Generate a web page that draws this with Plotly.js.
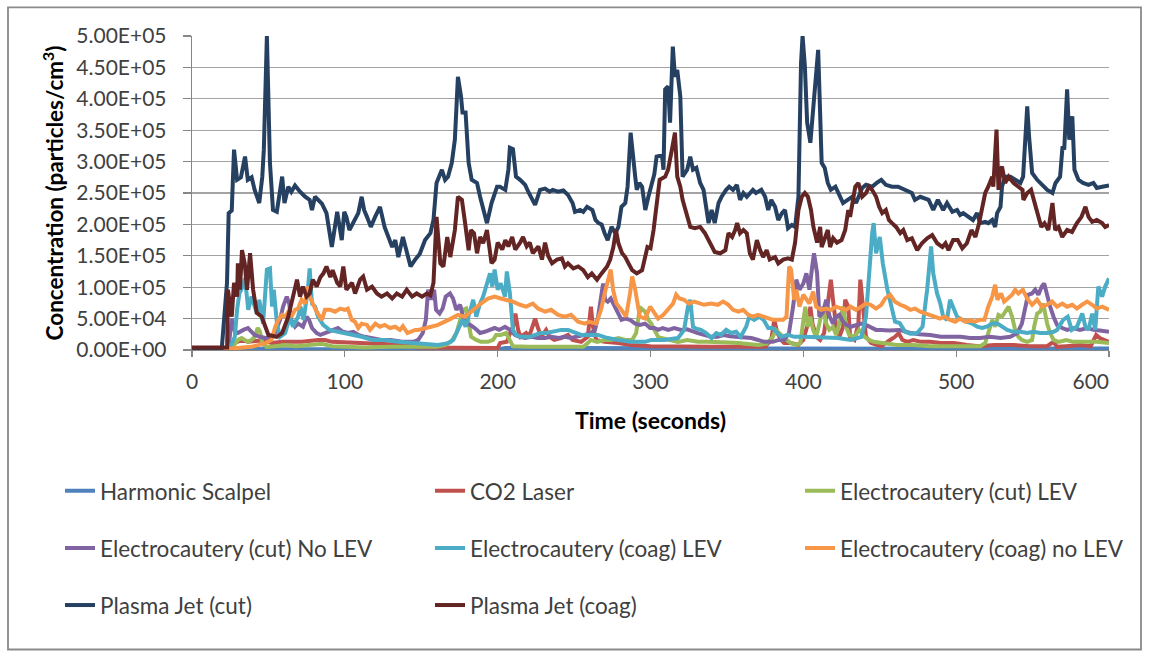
<!DOCTYPE html>
<html>
<head>
<meta charset="utf-8">
<script src="https://cdn.plot.ly/plotly-3.0.1.min.js"></script>
<style>html,body{margin:0;padding:0;background:#fff;}#chart{width:1149px;height:652px;}</style>
</head>
<body>
<div id="chart"></div>
<script>
// ---- Data ----
var seriesNames = ["Harmonic Scalpel","CO2 Laser","Electrocautery (cut) LEV","Electrocautery (cut) No LEV","Electrocautery (coag) LEV","Electrocautery (coag) no LEV","Plasma Jet (cut)","Plasma Jet (coag)"];
var yTickVals = [0,50000,100000,150000,200000,250000,300000,350000,400000,450000,500000];
var yTickText = ["0.00E+00","5.00E+04","1.00E+05","1.50E+05","2.00E+05","2.50E+05","3.00E+05","3.50E+05","4.00E+05","4.50E+05","5.00E+05"];
var xTickVals = [0,100,200,300,400,500,600];
var xTickText = ["0","100","200","300","400","500","600\u2007\u2007\u2007"];

var harmonicT = [0,20,30,45,50,55,80,120,160,200,205,250,300,350,400,450,500,550,600];
var harmonicV = [0,0,500,2000,3000,1500,1000,1000,800,1000,3000,3000,2500,2500,3000,2500,2000,2500,2500];

var co2T = [0,22,25,28,32.7,36.6,41,48,52,59,65,72,82.5,87,91.7,100,111,125,140,148,170,200,201.6,206,208.6,210,211.6,213.4,215,218.6,220.5,223,224.5,226.4,228.5,231.7,234,237,241.5,246,249,254.7,259,261,262.4,264.5,270,279,287,300,320,340,360,375,379,381,383,385.5,387.5,392,396.6,400,403,404.6,406,408.4,411,413.6,416,418,419.4,421.5,423.6,426,427.4,429.4,430.6,433.4,436,437.3,439,441,444.4,448,451,456.8,460,462.4,464.8,468,472,477,483,490,498.5,507,515,525,537.5,548,559.5,563.7,566,572,581,588,590,591.6,594,600];
var co2V = [0,0,8000,11000,16000,13000,14000,16000,11000,13000,13000,13000,16000,16000,13000,12000,11000,10000,8000,4000,3000,3000,11000,13000,30000,37000,58000,32000,21000,27000,21000,37000,50000,35000,21000,32000,21000,16000,19000,24000,16000,13000,21000,69000,37000,16000,13000,11000,8000,6000,5000,5000,5000,5000,16000,48000,27000,16000,11000,11000,8000,16000,42000,69000,42000,21000,16000,27000,74000,112000,80000,37000,21000,37000,80000,69000,21000,16000,42000,112000,69000,21000,11000,8000,6000,16000,21000,27000,16000,13000,16000,13000,13000,11000,11000,8000,6000,8000,8000,6000,6000,13000,5000,6000,8000,6000,16000,24000,19000,13000];

var cutLevT = [0,22,26,28,30,32.5,34.5,36.6,39,41,43,44.5,46,49,54.3,61,68,75,85,91.7,100,113,130,148,160,165.6,169.5,173,175.4,177.4,179.4,181.3,182.6,186,189,193.7,197,199,202,205.5,208,210,220,240,256,259,261,265,270,274,279,283.4,288,290.6,292.5,294,296.5,298.6,300.5,302.5,305,307,311.6,318,324,331,337,344,351,357.5,364,370.4,376,380,382,384,386.8,389,392,395.4,398,400,401.3,403,404.6,406.4,408.4,410.5,412.8,415,417,419.4,421.5,423.6,426,428,430,433.4,436.5,440,443,446,451,461.4,472,483,494,504.6,515.7,519,521,523.6,525.5,527.7,530,532,534.3,536.6,538.6,540.7,543,546.4,549.7,551,553,555,557,559.5,561.5,563.7,567,572,576.7,585,592,600];
var cutLevV = [0,0,3000,11000,16000,19000,16000,13000,16000,21000,35000,29000,11000,5000,6000,8000,6000,8000,10000,6000,5000,4000,5000,5000,5000,8000,13000,27000,48000,64000,66000,42000,21000,16000,13000,13000,16000,24000,24000,27000,16000,6000,5000,5000,5000,11000,16000,13000,16000,16000,19000,16000,16000,27000,58000,66000,61000,48000,42000,32000,21000,19000,16000,13000,16000,13000,13000,13000,12000,11000,10000,8000,10000,21000,32000,27000,21000,16000,11000,8000,11000,53000,69000,37000,53000,32000,21000,42000,69000,42000,32000,37000,24000,42000,69000,37000,24000,21000,32000,21000,16000,13000,11000,8000,8000,6000,6000,6000,6000,11000,27000,48000,37000,56000,53000,61000,69000,53000,32000,21000,16000,13000,16000,37000,58000,61000,74000,42000,27000,16000,13000,16000,13000,13000,13000,11000];

var cutNoLevT = [0,22,24,26,28,30,33.6,36.6,39,41,44.5,48,51,54.3,57.6,59.6,62,63.6,65,67.4,69.4,72.6,75,76.6,78.5,81.6,84,89,92.3,95.5,98.8,102,105.6,108.8,113,117.8,124,130,137.4,145,148,151,153,154.5,156.4,158.4,159.7,162,164,166,168.8,170.8,173,175.4,177.4,179.4,182,185,188.5,191.5,195,198,201,204.8,208,211.4,214.5,218,222,226.4,231,235,240,244,248,252.6,257,261,263.7,265.7,267.6,269,270.3,272,274,276.6,278.8,281,283.4,286.6,290,293,296.5,299.7,302.5,305,308,311.6,315.5,320,324,328,331,335,339.6,344,348,352,357.5,362,366,370.4,374.4,380,384,387.5,390.6,393.3,395.4,397.5,400,402,404,405.8,407,409,410.5,412.8,415,417,419.4,421.5,423.6,426,428,431,434.5,438,441,444.4,447.6,451,456,463,470,476,483,490,496,503,509,515.7,522,529,535.4,540,543,545,547,549.6,551.7,553.8,556,557.6,559.5,561.5,563.7,566,569.4,572.6,576.7,581,585.7,590,594,600];
var cutNoLevV = [0,0,5000,50000,30000,27000,32000,35000,29000,24000,21000,19000,21000,27000,48000,69000,85000,74000,48000,37000,42000,37000,53000,48000,35000,27000,24000,29000,32000,35000,29000,27000,29000,24000,21000,19000,16000,16000,13000,13000,16000,27000,48000,96000,80000,96000,64000,58000,66000,85000,90000,82000,64000,72000,53000,42000,40000,35000,27000,29000,32000,35000,32000,37000,32000,24000,21000,19000,21000,19000,19000,21000,19000,21000,19000,21000,24000,27000,32000,53000,85000,106000,80000,77000,82000,69000,58000,48000,50000,48000,42000,40000,42000,35000,35000,32000,35000,32000,35000,32000,33000,29000,27000,24000,21000,21000,24000,22000,21000,20000,19000,16000,13000,13000,16000,16000,27000,69000,112000,96000,106000,122000,96000,133000,154000,122000,53000,60000,80000,55000,42000,53000,56000,45000,40000,37000,40000,42000,40000,35000,32000,32000,31000,32000,27000,25000,24000,21000,21000,21000,19000,19000,21000,19000,21000,27000,42000,69000,88000,90000,96000,88000,101000,106000,85000,69000,53000,40000,35000,32000,35000,32000,35000,32000,31000,29000];

var coagLevT = [0,24,26,28,29.5,31,33,34.7,36.8,39,42.5,44,46.5,49,51,52.4,53.5,55.6,57.6,61,64,66,69.4,71,73,75.8,77,78.5,80.5,82.5,85.8,90,95.5,100,104.5,111,118,126,135,148,155,161,167.5,171,174,177,179,182,184,186,188.5,190.5,192.5,195,196.5,198,200,202,204.8,206,208,210,212,215,221,224.5,228,232,237.5,241.5,246,250.5,254.7,265.7,272,279,287,296.5,300.5,309,318,322,324.5,326,327.8,330,333,336.4,340,343,346,349.5,352.7,356,359,362.6,364.6,367.8,371,374,377,380,383.5,385.5,390,394,400.5,407,413.6,422.5,431,438,441,443,445,446,447.6,450,452,455,457,460,463,466.6,470,474.5,478,481,483.6,485,487.5,489.5,491.5,494,496,498.5,500.6,504,507,510.5,513.7,517,520,523.6,527,530,533.4,537.5,542,546.5,550.5,555,559.5,563.7,566,570,573,575.6,579,582.5,584.6,586.6,589,591,593,595.5,597.5,600];
var coagLevV = [0,0,10000,21000,64000,90000,100000,114000,64000,85000,58000,80000,42000,128000,130000,69000,96000,42000,21000,27000,53000,37000,53000,69000,48000,96000,130000,74000,69000,53000,40000,32000,29000,27000,24000,21000,16000,16000,13000,11000,10000,8000,11000,16000,32000,48000,37000,64000,80000,53000,74000,85000,101000,122000,101000,128000,96000,106000,85000,125000,90000,32000,24000,21000,21000,24000,27000,27000,29000,32000,32000,27000,24000,24000,19000,16000,13000,13000,16000,16000,19000,32000,69000,80000,37000,34000,32000,27000,19000,27000,24000,32000,27000,29000,21000,37000,53000,48000,53000,48000,35000,35000,27000,21000,24000,21000,21000,20000,19000,19000,16000,21000,53000,122000,185000,202000,154000,180000,138000,96000,75000,45000,43000,29000,26000,27000,37000,96000,165000,122000,90000,75000,53000,48000,80000,64000,53000,48000,45000,42000,37000,35000,37000,42000,42000,37000,32000,29000,29000,27000,29000,27000,27000,29000,32000,48000,53000,32000,37000,58000,37000,32000,58000,32000,101000,85000,101000,114000];

var coagNoLevT = [0,22,24,39,48,52,54.5,56.5,59,61,63,65,67.4,69.4,71.7,74,75.6,77,79,81.6,85,87,90.5,93.6,97,100,102,104.5,106.7,108.8,111,114.5,116.5,120,123,126,129.6,133,136,138,141,146,148,152,156.5,161,165.6,169.5,174,178.6,182.6,186,189,193.7,198,202,205.5,210,214.6,218.6,223,226.4,231,235,239.5,244,248,252.6,257,260,264.5,267.6,270,272,274,275.5,277.7,281,284,286.6,288,290,293,296.5,299.7,302,305,308.4,311.6,314.8,316.8,319,322,325,328.6,331.7,335,339.6,344,347.5,351,354,357.5,360.7,364,367,370.4,374,377,380,383.5,386.8,389,390.7,392,394,395.4,397.5,400,402,404,406.4,408.4,411.6,415,418,421.5,425,428,431,434.5,438,441,444,447.6,451,453.5,456.8,460,463.4,466.6,470,473,476.5,479.7,483,486,489.5,492.5,496,499.4,502.6,506,509,512,515.7,518.5,521,523.6,525.5,527,529.4,531.4,533.4,536.6,538.6,540.7,543.6,546.4,549.7,553,556,559.5,562.8,566,569.4,572.6,576,579,582.4,585.7,589,592,595.5,600];
var coagNoLevV = [0,0,2000,5000,11000,16000,37000,48000,56000,53000,61000,53000,64000,66000,80000,74000,101000,85000,74000,61000,48000,64000,64000,61000,66000,64000,66000,48000,45000,35000,42000,40000,32000,42000,37000,40000,35000,37000,32000,38000,27000,32000,32000,35000,37000,40000,45000,50000,56000,53000,61000,69000,74000,82000,85000,82000,80000,77000,72000,69000,74000,66000,61000,64000,56000,53000,56000,45000,42000,45000,42000,64000,90000,112000,128000,96000,74000,64000,53000,90000,117000,96000,53000,50000,69000,61000,50000,56000,66000,74000,88000,82000,80000,74000,77000,74000,72000,74000,72000,77000,72000,64000,61000,64000,56000,53000,56000,53000,50000,48000,48000,48000,53000,133000,128000,80000,96000,69000,88000,80000,74000,93000,69000,64000,66000,64000,69000,66000,64000,69000,64000,69000,74000,72000,66000,72000,82000,88000,77000,72000,69000,64000,66000,61000,58000,56000,53000,50000,53000,48000,45000,50000,45000,48000,45000,48000,48000,69000,85000,104000,80000,90000,77000,82000,88000,96000,90000,96000,82000,72000,80000,69000,72000,77000,69000,74000,69000,72000,66000,72000,77000,72000,66000,69000,64000];

var pjCutT = [0,19.5,22.9,24,26,27.5,29.5,32,34.7,36.5,39,41,44,46,47,49,51,53,55.5,59,60.5,63,65,67.4,70.7,74,77,78.5,80.5,82.5,85,88,91.5,95,98,99.6,101,103,106.7,108.8,111,112.6,114.5,117,119.8,123,126,128,131,133,135,138,140.5,143,146,149,152.5,156,158,160,163.5,165.6,167.5,170,172,174,176,177,179,181,183,186.5,188.5,190.5,193,196,199.6,201.5,205,207,208,210,212,214.7,218,220,222.5,224.5,227.7,231,234,236,239.5,243,246,249,250.6,254,256,258.5,262,264,266,268,270,272,274.5,277,279,281,283.5,285,287,288.5,290,291,292.7,294.5,296.6,298.6,301,302.5,304,307.5,308.5,309.6,311.5,312.8,314.6,316,317.5,319.5,321,324,326,327.8,330,332.5,334.7,337,338,340,342,344.5,346.5,349.5,351.5,354,356.5,358.6,360.8,363,365,367,369,372.5,375,377,379,381.5,383.6,386,388,390,392.5,394.6,396.8,398.5,399.5,401,402.5,404.6,407,409.7,412,414,416,418,421,423,426,429,432,434.5,438.5,441,445,448,451,454,458,462,466.6,471,473,476.5,482,485,488,491.5,494,497.5,500.6,502.6,504.6,508,511,513.7,515.7,519,521,523.6,525.5,526.8,529,530,532,535.5,538.6,542,543.8,545,546.5,547.7,549.7,553,556,559.6,563,565,568,569.6,570.7,572.6,574,576,577.4,580,583,586.6,589.8,592,595.6,600];
var pjCutV = [3000,3000,107000,218000,222000,319000,271000,275000,308000,271000,275000,255000,234000,276000,319000,500000,298000,223000,220000,276000,234000,260000,252000,262000,252000,244000,239000,223000,244000,239000,233000,218000,164000,220000,175000,220000,212000,191000,207000,218000,244000,223000,212000,196000,212000,228000,196000,183000,164000,175000,148000,180000,154000,133000,144000,153000,175000,186000,207000,266000,287000,271000,276000,298000,335000,435000,404000,378000,378000,298000,271000,266000,244000,223000,202000,234000,260000,260000,255000,287000,322000,320000,276000,271000,263000,252000,239000,231000,255000,257000,252000,255000,252000,254000,247000,234000,220000,223000,220000,228000,223000,207000,202000,200000,186000,175000,196000,186000,196000,228000,234000,260000,346000,303000,276000,255000,266000,260000,223000,244000,270000,280000,308000,310000,287000,415000,420000,362000,483000,435000,446000,404000,276000,287000,308000,287000,290000,266000,255000,223000,202000,223000,202000,234000,244000,255000,260000,255000,263000,239000,250000,244000,250000,255000,250000,255000,244000,223000,239000,228000,207000,218000,223000,194000,199000,196000,244000,457000,500000,452000,362000,330000,400000,478000,298000,290000,266000,255000,260000,250000,234000,239000,244000,234000,258000,263000,260000,266000,271000,263000,260000,260000,255000,250000,239000,244000,239000,223000,239000,223000,234000,220000,223000,215000,218000,212000,207000,218000,202000,204000,202000,207000,196000,218000,228000,260000,276000,276000,271000,266000,276000,340000,388000,340000,282000,271000,263000,255000,250000,266000,276000,324000,319000,415000,335000,372000,287000,271000,266000,263000,266000,258000,260000,262000];

var pjCoagT = [0,23,23.5,26,27.5,29.5,30,31.4,32.7,34.5,36,38,40,42.4,45.6,50,55.4,59,63,65,68.7,70.7,72.6,75,77,79,81.6,84,86,88,90.5,92,95,97,99,101,104.7,106.7,110,112,114.5,117.8,121,124,127.6,131,134,137.5,140.5,144,147,150.5,153.6,156,158,160,162.5,164.5,167,169,172,174,176.6,178.7,181,182.5,184.5,186.5,188.5,190.5,193,196,198,200,203,205,207,209.5,211.5,214.7,216.6,219,221,223,226.6,229,231,233,235.6,238.8,242,244,246,249.5,252.7,256,259,261.6,265,268,271.6,273.6,275.7,277.4,279,281.4,283.5,285.6,288,291,294.5,298,300,302,304,306,309.6,311.5,314,316,317.5,319.5,321,324,326,329,332.5,335.6,339,342,345.6,349,351,353.4,355.4,356.7,358.6,360.8,363,365,367,369.6,371.7,373.7,376,378,381.5,383.6,386.8,390,392.5,394.6,396.8,399,401,403,405,406.6,409,411,412,414.3,416,417.5,419.5,422,425,427.4,429.4,430.6,432,434,436,438.5,441,443,445,447.6,449.6,451.6,454,456,458,460.7,463.4,465.4,468,471,474.5,477.6,481,484.3,487.6,491,493,495,498,501,504,507,510,512.6,515,517.6,519,521,523.6,524.3,526.4,527.7,529,530,532,534.3,537.6,540.7,543.4,544,546.5,549,551,553.6,555.7,557.8,560.3,563,564.8,567,569.4,572.6,575.8,579,582,584.6,586.6,589,592,595.5,597.5,600];
var pjCoagV = [4000,4000,96000,53000,107000,85000,138000,96000,159000,138000,96000,154000,96000,59000,53000,24000,21000,27000,53000,75000,112000,85000,101000,85000,90000,112000,101000,116000,122000,133000,116000,127000,107000,101000,133000,96000,107000,90000,112000,117000,96000,101000,90000,85000,90000,82000,90000,85000,96000,85000,90000,85000,90000,87000,107000,212000,138000,133000,180000,148000,191000,244000,239000,202000,159000,191000,186000,154000,180000,170000,191000,138000,144000,171000,160000,175000,165000,180000,160000,171000,180000,165000,171000,154000,165000,144000,171000,150000,138000,144000,146000,133000,138000,130000,133000,127000,116000,122000,112000,122000,133000,144000,164000,191000,170000,154000,148000,138000,127000,122000,127000,164000,162000,191000,234000,271000,276000,287000,319000,346000,276000,260000,239000,212000,196000,194000,196000,186000,171000,156000,154000,159000,186000,180000,191000,202000,186000,191000,186000,154000,144000,175000,159000,148000,159000,144000,148000,138000,144000,146000,144000,171000,223000,244000,250000,244000,223000,196000,171000,196000,164000,180000,191000,164000,178000,171000,175000,191000,223000,212000,234000,260000,266000,244000,250000,260000,255000,244000,228000,218000,223000,207000,202000,196000,186000,191000,175000,178000,159000,170000,178000,183000,170000,164000,170000,159000,175000,175000,162000,170000,191000,180000,202000,234000,250000,260000,276000,260000,351000,255000,287000,292000,266000,276000,266000,260000,255000,239000,250000,255000,239000,218000,196000,202000,191000,234000,191000,196000,180000,191000,188000,202000,212000,228000,212000,204000,207000,202000,196000,199000];

var seriesT = [harmonicT, co2T, cutLevT, cutNoLevT, coagLevT, coagNoLevT, pjCutT, pjCoagT];
var seriesV = [harmonicV, co2V, cutLevV, cutNoLevV, coagLevV, coagNoLevV, pjCutV, pjCoagV];
var seriesColors = ["#4F81BD","#C0504D","#9BBB59","#8064A2","#4BACC6","#F79646","#254061","#632523"];
var seriesLegend = ["legend","legend","legend","legend2","legend2","legend2","legend3","legend3"];

// ---- Build traces ----
var traces = seriesNames.map(function(name, i){
  return {
    type: "scatter", mode: "lines", name: name,
    x: seriesT[i], y: seriesV[i],
    line: {color: seriesColors[i], width: 4},
    legend: seriesLegend[i],
    hoverinfo: "skip"
  };
});

var font = "Lato, 'Open Sans', sans-serif";
var txtColor = "#404040";
var axisGrey = "#868686";

function pxX(px){ return (px - 192) / 917; }
function pxY(py){ return (350 - py) / 313.5; }

function legendAt(rowY){
  return {
    orientation: "h", x: pxX(60), xanchor: "left", y: pxY(rowY), yanchor: "middle",
    entrywidth: 325, entrywidthmode: "pixels",
    font: {family: font, size: 22.5, color: txtColor},
    bgcolor: "rgba(0,0,0,0)", borderwidth: 0, traceorder: "normal"
  };
}

var layout = {
  width: 1149, height: 652,
  paper_bgcolor: "#ffffff", plot_bgcolor: "#ffffff",
  margin: {l: 192, r: 40, t: 36, b: 302, autoexpand: false},
  showlegend: true,
  xaxis: {
    range: [0, 600], tickvals: xTickVals, ticktext: xTickText,
    showgrid: false, zeroline: false, showline: true, linecolor: axisGrey, linewidth: 1.3,
    ticks: "outside", ticklen: 6, tickcolor: axisGrey, tickwidth: 1.3,
    tickfont: {family: font, size: 21, color: txtColor},
    ticklabelstandoff: 6,
    title: {text: "<b>Time (seconds)</b>", font: {family: font, size: 23, color: "#000000"}, standoff: 21}
  },
  yaxis: {
    range: [0, 500000], tickvals: yTickVals, ticktext: yTickText,
    showgrid: true, gridcolor: "#a3a3a3", gridwidth: 1.3,
    zeroline: false, showline: true, linecolor: axisGrey, linewidth: 1.3,
    ticks: "outside", ticklen: 8, tickcolor: axisGrey, tickwidth: 1.3,
    tickfont: {family: font, size: 21, color: txtColor},
    ticklabelstandoff: 12,
    title: {text: "<b>Concentration (particles/cm<sup>3</sup>)</b>", font: {family: font, size: 22.5, color: "#000000"}, standoff: 6}
  },
  legend: legendAt(491),
  legend2: legendAt(548),
  legend3: legendAt(605),
  shapes: [{
    type: "rect", xref: "paper", yref: "paper", layer: "below",
    x0: pxX(8), x1: pxX(1141), y0: pxY(649), y1: pxY(8),
    line: {color: "#8a8a8a", width: 1.8}, fillcolor: "rgba(0,0,0,0)"
  }]
};

Plotly.newPlot("chart", traces, layout, {displayModeBar: false, staticPlot: true});
</script>
</body>
</html>
